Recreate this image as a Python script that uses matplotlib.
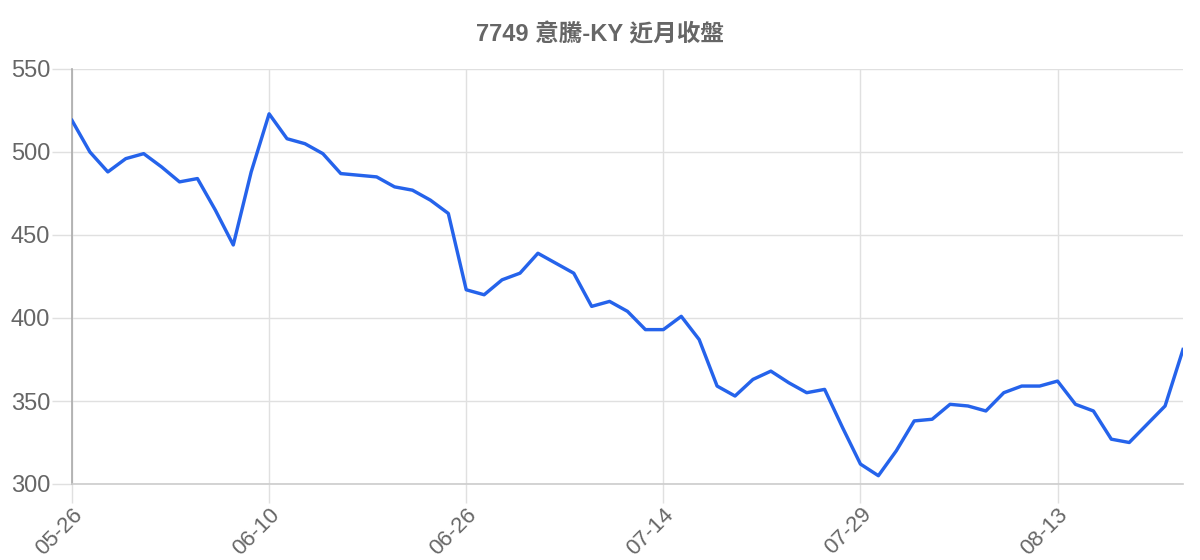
import matplotlib
matplotlib.use('Agg')
import matplotlib.pyplot as plt

plt.rcParams['font.family'] = ['Liberation Sans', 'Noto Sans CJK TC', 'DejaVu Sans']

dates = ['05-26', '05-27', '05-28', '05-29', '05-30', '06-02', '06-03', '06-04',
         '06-05', '06-06', '06-09', '06-10', '06-11', '06-12', '06-13', '06-16',
         '06-17', '06-18', '06-19', '06-20', '06-23', '06-24', '06-26', '06-27',
         '06-30', '07-01', '07-02', '07-03', '07-04', '07-07', '07-08', '07-09',
         '07-10', '07-14', '07-15', '07-16', '07-17', '07-18', '07-21', '07-22',
         '07-23', '07-24', '07-25', '07-28', '07-29', '07-30', '07-31', '08-01',
         '08-04', '08-05', '08-06', '08-07', '08-08', '08-11', '08-12', '08-13',
         '08-14', '08-15', '08-18', '08-19', '08-20', '08-21', '08-22']

close = [519, 500, 488, 496, 499, 491, 482, 484, 465, 444, 488, 523,
         508, 505, 499, 487, 486, 485, 479, 477, 471, 463, 417, 414,
         423, 427, 439, 433, 427, 407, 410, 404, 393, 393, 401, 387,
         359, 353, 363, 368, 361, 355, 357, 334, 312, 305, 320, 338,
         339, 348, 347, 344, 355, 359, 359, 362, 348, 344, 327, 325,
         336, 347, 381]

yticks = [300, 350, 400, 450, 500, 550]
tick_step = 11

title = '7749 意騰-KY 近月收盤'
text_color = '#666666'
grid_color = '#e0e0e0'
px = 72 / 100  # points per pixel at dpi 100

fig = plt.figure(figsize=(12, 5.6), dpi=100)
ax = fig.add_axes([72 / 1200, 1 - 484 / 560, (1183 - 72) / 1200, (484 - 69) / 560])

x = list(range(len(dates)))
ax.plot(x, close, color='#2563eb', lw=3.4 * px, zorder=3)

ax.set_xlim(0, len(dates) - 1)
ax.set_ylim(300, 550)

xt = x[::tick_step]
ax.set_xticks(xt)
ax.set_xticklabels([dates[i] for i in xt], rotation=45, ha='right',
                   rotation_mode='anchor', color=text_color, fontsize=16)
ax.set_yticks(yticks)
ax.set_yticklabels([str(v) for v in yticks], color=text_color, fontsize=17)

ax.tick_params(axis='x', length=19 * px, width=1, color=grid_color, pad=1 * px)
ax.tick_params(axis='y', length=20 * px, width=1, color=grid_color, pad=2 * px)
ax.grid(True, color=grid_color, lw=1)

for side in ['top', 'right']:
    ax.spines[side].set_visible(False)
ax.spines['left'].set_color('#aaaaaa')
ax.spines['left'].set_linewidth(1.2)
ax.spines['bottom'].set_color('#cccccc')
ax.spines['bottom'].set_linewidth(1.2)

fig.text(0.5, 1 - 35 / 560, title, ha='center', va='center',
         fontsize=17, fontweight='bold', color=text_color)

fig.savefig('out.png', dpi=100)
